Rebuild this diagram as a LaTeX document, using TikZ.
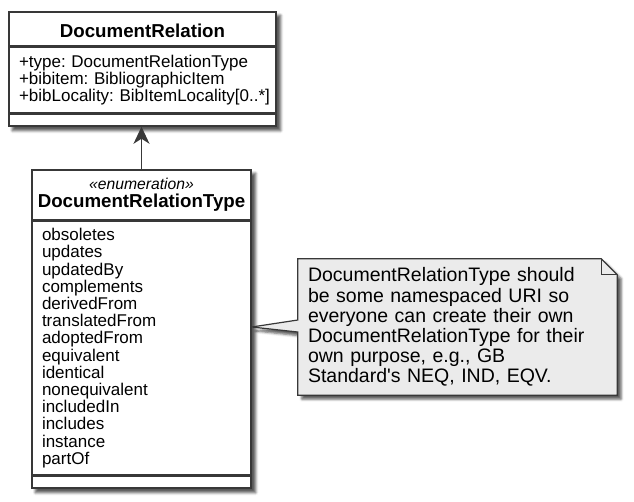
\documentclass[tikz,border=0pt]{standalone}
\usepackage{fontspec}
\setmainfont{Liberation Sans}
\usetikzlibrary{positioning,fit,backgrounds,shadows.blur,arrows.meta,calc}
\frenchspacing

\definecolor{umlline}{HTML}{383838}
\definecolor{notefill}{HTML}{EBEBEB}

\newcommand\umltitle{\fontsize{18.7}{18}\selectfont\bfseries}
\newcommand\umlstereo{\fontsize{15.7}{18}\selectfont\mdseries\itshape}
\newcommand\umlmember{\fontsize{17}{17.2}\selectfont}
\newcommand\umlnote{\fontsize{19.5}{20.1}\selectfont}

\tikzset{
  compartment/.style={draw=umlline, line width=1.5pt, fill=white, inner sep=0pt},
  umlshadow/.style={blur shadow={shadow xshift=4pt, shadow yshift=-4pt,
      shadow blur radius=2.5pt, shadow opacity=65}},
  notetext/.style={inner sep=0pt, minimum width=319pt, minimum height=136pt,
      text width=299pt, align=left, font=\umlnote}
}

\begin{document}
\begin{tikzpicture}[x=1pt,y=-1pt]
    \useasboundingbox (0,0) rectangle (634,501);

    % DocumentRelation
    \node[compartment,
        minimum width=267pt,
        minimum height=34pt,
        text height=18pt,
        font=\umltitle
    ] (relTitle) at (142.5,29) {DocumentRelation};

    \node[compartment,
        minimum width=267pt,
        minimum height=65pt,
        text width=247pt,
        align=left,
        font=\umlmember,
        below=0pt of relTitle
    ] (relAttrs) {\mbox{+type: DocumentRelationType}\\
        \mbox{+bibitem: BibliographicItem}\\
        \mbox{+bibLocality: BibItemLocality[0..*]}};

    \node[compartment,
        minimum width=267pt,
        minimum height=12pt,
        below=0pt of relAttrs
    ] (relEnd) {};

    % DocumentRelationType
    \node[compartment,
        minimum width=219pt,
        minimum height=50pt,
        align=center,
        font=\umltitle
    ] (enumHead) at (141.5,195) {{\umlstereo «enumeration»}\\DocumentRelationType};

    \node[compartment,
        minimum width=219pt,
        minimum height=253pt,
        text width=199pt,
        align=left,
        font=\umlmember,
        below=0pt of enumHead
    ] (enumLits) {obsoletes\\updates\\updatedBy\\complements\\derivedFrom\\
        translatedFrom\\adoptedFrom\\equivalent\\identical\\nonequivalent\\
        includedIn\\includes\\instance\\partOf};

    \node[compartment,
        minimum width=219pt,
        minimum height=12pt,
        below=0pt of enumLits
    ] (enumEnd) {};

    % note
    \node[notetext] (note) at (457.5,327) {DocumentRelationType should\\
        be some namespaced URI so\\
        everyone can create their own\\
        DocumentRelationType for their\\
        own purpose, e.g., GB\\
        Standard\textquotesingle s NEQ, IND, EQV.};

    % shadows and note outline
    \begin{scope}[on background layer]
        \node[fit=(relTitle)(relEnd), inner sep=0pt, umlshadow] (relBox) {};
        \node[fit=(enumHead)(enumEnd), inner sep=0pt, umlshadow] (enumBox) {};
        \path[draw=umlline, line width=1.2pt, fill=notefill, umlshadow]
            (note.north west) -- ($(note.north east)+(-16,0)$)
            -- ($(note.north east)+(0,16)$) -- (note.south east)
            -- (note.south west) -- ($(note.west)+(0,5)$)
            -- (enumLits.east |- note.west) -- ($(note.west)+(0,-7)$) -- cycle;
    \end{scope}
    \draw[umlline, line width=1.2pt] ($(note.north east)+(-16,0)$)
        |- ($(note.north east)+(0,16)$);

    % Arrow
    \draw[umlline, line width=1.3pt,
        -{Stealth[length=17pt, width=16pt, inset=5pt]}]
        (enumHead.north) -- (enumHead.north |- relEnd.south);

\end{tikzpicture}
\end{document}
